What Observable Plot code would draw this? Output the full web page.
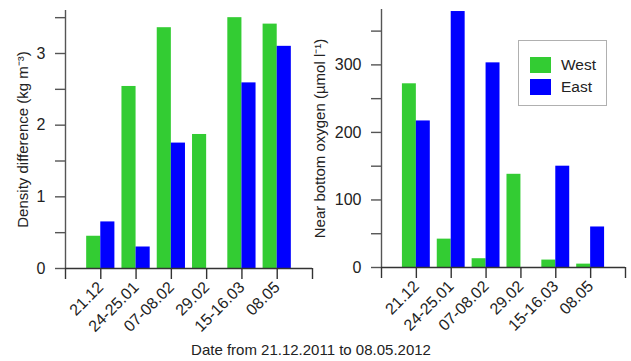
<!DOCTYPE html>
<html>
<head>
<meta charset="utf-8">
<script src="https://cdn.jsdelivr.net/npm/d3@7"></script>
<script src="https://cdn.jsdelivr.net/npm/@observablehq/plot@0.6"></script>
<style>
  html, body { margin: 0; padding: 0; background: #fff; }
  #wrap { position: relative; width: 631px; height: 361px; overflow: hidden; font-family: "Liberation Sans", Arial, sans-serif; color: #222; }
  #wrap svg { position: absolute; top: 0; }
  #caption { position: absolute; left: 0; width: 622px; top: 341px; text-align: center; font-size: 15px; line-height: 18px; }
  #legend { position: absolute; left: 518px; top: 40px; width: 87px; height: 64px; border: 1px solid #b0b0b0; background: #fff; }
  .sw { position: absolute; left: 11px; width: 21px; height: 16px; }
  .lt { position: absolute; left: 42px; font-size: 15.5px; line-height: 18px; }
</style>
</head>
<body>
<div id="wrap">
  <div id="left"></div>
  <div id="right"></div>
  <div id="caption">Date from 21.12.2011 to 08.05.2012</div>
  <div id="legend">
    <div class="sw" style="top:16px;background:#33cc33"></div><div class="lt" style="top:15px">West</div>
    <div class="sw" style="top:38px;background:#0000ff"></div><div class="lt" style="top:37px">East</div>
  </div>
</div>
<script>
const dates = ["21.12", "24-25.01", "07-08.02", "29.02", "15-16.03", "08.05"];
const densityWest = [0.45, 2.54, 3.36, 1.87, 3.50, 3.41];
const densityEast = [0.65, 0.30, 1.75, 0, 2.59, 3.10];
const oxygenWest = [272, 42, 13, 138, 11, 5];
const oxygenEast = [217, 379, 303, 0, 150, 60];
const densityTicks = [0, 0.5, 1, 1.5, 2, 2.5, 3, 3.5];
const oxygenTicks = [0, 50, 100, 150, 200, 250, 300, 350];
const seriesNames = ["West", "East"];
const seriesColors = ["#33cc33", "#0000ff"];

const xTicks = d3.range(dates.length + 2);
const half = 0.4;

function rows(west, east) {
  const out = [];
  dates.forEach((d, i) => {
    out.push({pos: i + 1, side: "West", value: west[i], x1: i + 1 - half, x2: i + 1});
    out.push({pos: i + 1, side: "East", value: east[i], x1: i + 1, x2: i + 1 + half});
  });
  return out.filter(r => r.value > 0);
}

function panel({data, ticks, ymax, label, width, marginLeft, marginRight, marginTop, marginBottom, labelDx}) {
  return Plot.plot({
    width, height: 361, marginLeft, marginRight, marginTop, marginBottom,
    style: {fontFamily: "Liberation Sans, Arial, sans-serif", fontSize: "16px", background: "transparent", color: "#222", overflow: "visible"},
    x: {domain: [0, dates.length + 1]},
    y: {domain: [0, ymax]},
    color: {domain: seriesNames, range: seriesColors},
    marks: [
      Plot.rectY(data, {x1: "x1", x2: "x2", y1: 0, y2: "value", fill: "side"}),
      Plot.ruleX([0], {stroke: "#555", strokeWidth: 1.4}),
      Plot.ruleY([0], {stroke: "#333", strokeWidth: 1.4}),
      Plot.axisY({ticks, tickFormat: d => (d % (ticks[2]) === 0 ? d : ""), tickSize: 10, tickPadding: 10, stroke: "#555", strokeWidth: 1.4, fill: "#222", fontSize: 16, label: null}),
      Plot.axisX({ticks: xTicks, tickFormat: i => dates[i - 1] ?? "", tickRotate: -45, tickSize: 11, tickPadding: 5, stroke: "#333", strokeWidth: 1.4, fill: "#222", fontSize: 16, label: null}),
      Plot.text([label], {frameAnchor: "left", textAnchor: "middle", lineAnchor: "middle", rotate: -90, dx: labelDx, fontSize: 15, fill: "#222"})
    ]
  });
}

const left = panel({
  data: rows(densityWest, densityEast), ticks: densityTicks, ymax: 3.6,
  label: "Density difference (kg m⁻³)",
  width: 316, marginLeft: 65, marginRight: 4, marginTop: 10, marginBottom: 93, labelDx: -42
});
left.style.left = "0px";
document.getElementById("left").appendChild(left);

const right = panel({
  data: rows(oxygenWest, oxygenEast), ticks: oxygenTicks, ymax: 382,
  label: "Near bottom oxygen (µmol l⁻¹)",
  width: 331, marginLeft: 81, marginRight: 6, marginTop: 9, marginBottom: 94, labelDx: -61
});
right.style.left = "300px";
document.getElementById("right").appendChild(right);
</script>
</body>
</html>
